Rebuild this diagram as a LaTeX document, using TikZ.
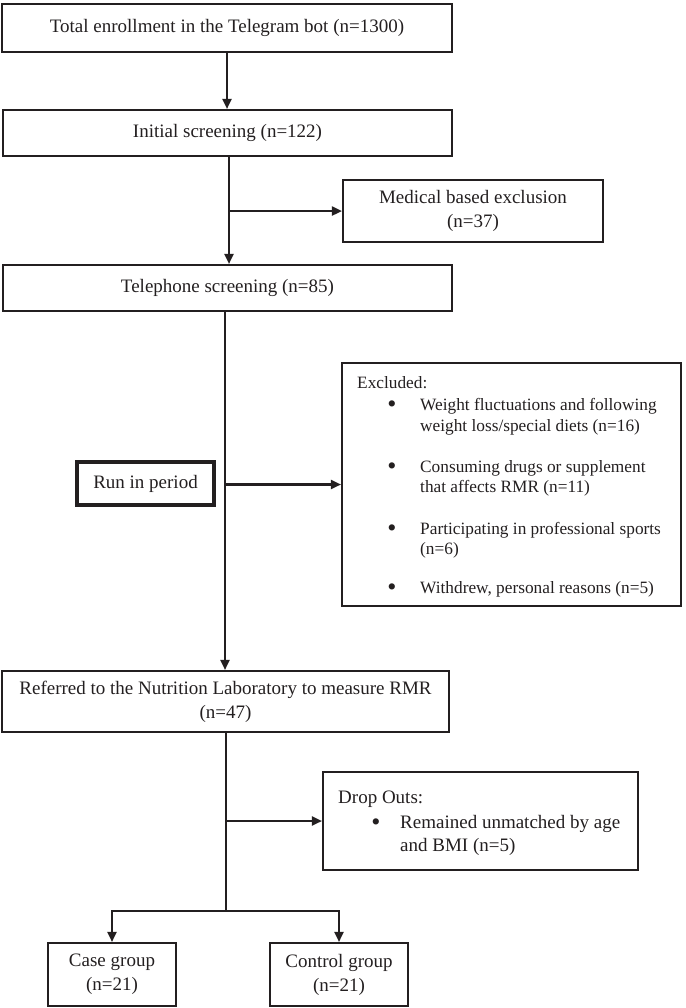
\documentclass[tikz,border=0pt]{standalone}
\usepackage{fontspec}
\setmainfont{Liberation Serif}
\usetikzlibrary{arrows.meta,calc}
\definecolor{ink}{RGB}{35,31,32}
\tikzset{
  box/.style={draw=ink, line width=2.1pt, inner sep=0pt, align=center, text=ink,
    font=\fontsize{19}{24}\selectfont},
  thickbox/.style={box, line width=3.8pt},
  arr/.style={draw=ink, line width=2.1pt, -{Triangle[length=10pt,width=9pt]}},
  conn/.style={draw=ink, line width=2.1pt},
  txt/.style={inner sep=0pt, anchor=base west, text=ink, font=\fontsize{19}{24}\selectfont},
  stxt/.style={inner sep=0pt, anchor=base west, text=ink, font=\fontsize{17.3}{21}\selectfont},
  bul/.style={inner sep=0pt, anchor=base, text=ink, font=\fontsize{26}{26}\selectfont},
}
\begin{document}
\begin{tikzpicture}[x=1pt,y=-1pt]
\useasboundingbox (0,0) rectangle (685,1008);
% boxes
\node[box, minimum width=450pt, minimum height=48pt] (b1) at (227,28) {Total enrollment in the Telegram bot (n=1300)};
\node[box, minimum width=449pt, minimum height=46pt] (b2) at (227.5,133) {Initial screening (n=122)};
\node[box, minimum width=260pt, minimum height=62pt] (med) at (473,211) {Medical based exclusion\\(n=37)};
\node[box, minimum width=449pt, minimum height=46pt] (b4) at (227.5,288) {Telephone screening (n=85)};
\node[thickbox, minimum width=137pt, minimum height=43pt] (run) at (145.5,483.5) {Run in period};
\node[box, minimum width=339pt, minimum height=243pt] (exc) at (511.5,484.5) {};
\node[box, minimum width=447pt, minimum height=61pt] (b5) at (225.5,701.5) {Referred to the Nutrition Laboratory to measure RMR\\(n=47)};
\node[box, minimum width=315pt, minimum height=98pt] (drop) at (480.5,821) {};
\node[box, minimum width=128pt, minimum height=63pt] (case) at (112,974.5) {Case group\\(n=21)};
\node[box, minimum width=138pt, minimum height=63pt] (ctrl) at (339,974.5) {Control group\\(n=21)};
% excluded box text
\node[stxt] (e0) at (357,388) {Excluded:};
\node[bul] (eb1) at (392,412) {\textbullet};
\node[stxt] (e1a) at (420,410) {Weight fluctuations and following};
\node[stxt] (e1b) at (420,431) {weight loss/special diets (n=16)};
\node[bul] (eb2) at (392,474) {\textbullet};
\node[stxt] (e2a) at (420,472) {Consuming drugs or supplement};
\node[stxt] (e2b) at (420,492) {that affects RMR (n=11)};
\node[bul] (eb3) at (392,536) {\textbullet};
\node[stxt] (e3a) at (420,534) {Participating in professional sports};
\node[stxt] (e3b) at (420,554) {(n=6)};
\node[bul] (eb4) at (392,595) {\textbullet};
\node[stxt] (e4a) at (420,593) {Withdrew, personal reasons (n=5)};
% drop outs text
\node[txt] (d0) at (338,803) {Drop Outs:};
\node[bul] (db1) at (376,830) {\textbullet};
\node[txt] (d1a) at (400,828) {Remained unmatched by age};
\node[txt] (d1b) at (400,851) {and BMI (n=5)};
% connectors
\draw[arr] (b1.south) -- (b1.south |- b2.north);
\coordinate (c2) at ([xshift=1.5pt]b2.south);
\draw[arr] (c2) -- (c2 |- b4.north);
\coordinate (j1) at ($(c2)+(0,54)$);
\draw[arr] (j1) -- (j1 -| med.west);
\coordinate (c4) at ([xshift=-2.5pt]b4.south);
\draw[arr] (c4) -- (c4 |- b5.north);
\coordinate (j2) at (c4 |- exc.west);
\draw[arr] (j2) -- (exc.west);
\coordinate (c5) at ([xshift=0.5pt]b5.south);
\coordinate (j3) at (c5 |- drop.west);
\draw[arr] (j3) -- (drop.west);
\coordinate (sp) at ($(c5)+(0,178)$);
\draw[conn] (c5) -- (sp);
\draw[arr] (sp) -| (case.north);
\draw[arr] (sp) -| (ctrl.north);
\end{tikzpicture}
\end{document}
